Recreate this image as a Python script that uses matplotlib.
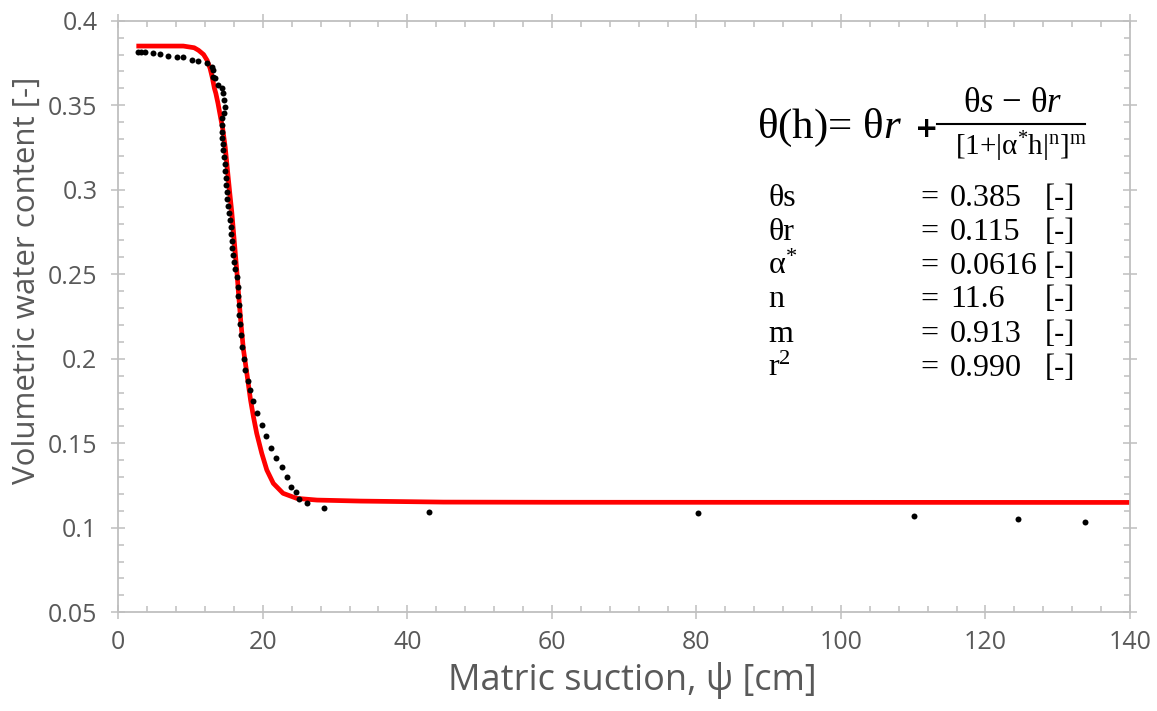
import matplotlib
matplotlib.use("Agg")
import matplotlib.pyplot as plt
from matplotlib.ticker import MultipleLocator, FixedLocator
from matplotlib.lines import Line2D

# Measured retention data: matric suction (cm) vs volumetric water content
psi_obs = [2.68, 3.14, 3.69, 4.84, 5.77, 6.92, 8.08, 8.99, 10.16, 11.07,
           12.23, 12.92, 13.15, 13.10, 13.38, 13.84, 14.31, 14.53, 14.67, 14.77,
           14.67, 14.39, 14.39, 14.31, 14.39, 14.42, 14.49, 14.63, 14.77, 14.83,
           14.90, 14.97, 15.04, 15.11, 15.18, 15.32, 15.46, 15.53, 15.60, 15.73,
           15.80, 15.87, 16.01, 16.20, 16.38, 16.52, 16.61, 16.74, 16.74, 16.84,
           16.98, 17.16, 17.39, 17.57, 17.99, 18.22, 18.68, 19.15, 19.84, 20.44,
           21.09, 21.78, 22.61, 23.30, 23.90, 24.59, 25.01, 26.07, 28.51, 43.04,
           80.26, 110.15, 124.46, 133.77]
theta_obs = [0.3813, 0.3813, 0.3813, 0.3807, 0.3803, 0.3793, 0.3783, 0.3783, 0.3768, 0.3763,
             0.3748, 0.3728, 0.3708, 0.3669, 0.3659, 0.3620, 0.3600, 0.3570, 0.3531, 0.3491,
             0.3452, 0.3423, 0.3383, 0.3343, 0.3304, 0.3271, 0.3235, 0.3194, 0.3152, 0.3111,
             0.3069, 0.3028, 0.2987, 0.2945, 0.2904, 0.2862, 0.2821, 0.2779, 0.2738, 0.2697,
             0.2655, 0.2614, 0.2572, 0.2530, 0.2485, 0.2426, 0.2371, 0.2318, 0.2259, 0.2206,
             0.2141, 0.2071, 0.1997, 0.1933, 0.1868, 0.1815, 0.1748, 0.1682, 0.1608, 0.1543,
             0.1470, 0.1411, 0.1358, 0.1299, 0.1243, 0.1210, 0.1170, 0.1145, 0.1115, 0.1095,
             0.1089, 0.1070, 0.1052, 0.1032]

# Fitted van Genuchten curve
psi_fit = [2.5, 6.0, 9.0, 10.5, 11.1, 11.8, 12.3, 12.7, 13.0, 13.3,
           13.5, 13.8, 14.1, 14.45, 14.8, 15.1, 15.45, 15.7, 16.0, 16.4,
           16.65, 16.95, 17.3, 17.8, 18.3, 18.7, 19.15, 19.85, 20.55, 21.45,
           22.8, 24.7, 27.5, 33.5, 45.0, 60.0, 140.0]
theta_fit = [0.385, 0.385, 0.385, 0.384, 0.3825, 0.380, 0.3765, 0.3718, 0.3665, 0.360,
             0.357, 0.351, 0.344, 0.336, 0.325, 0.312, 0.297, 0.287, 0.272, 0.252,
             0.238, 0.222, 0.206, 0.191, 0.1756, 0.1657, 0.1559, 0.1441, 0.1342, 0.1263,
             0.1204, 0.1174, 0.1164, 0.1158, 0.1152, 0.1151, 0.1150]

x_ticks = [0, 20, 40, 60, 80, 100, 120, 140]
x_tick_labels = ["0", "20", "40", "60", "80", "100", "120", "140"]
y_ticks = [0.05, 0.1, 0.15, 0.2, 0.25, 0.3, 0.35, 0.4]
y_tick_labels = ["0.05", "0.1", "0.15", "0.2", "0.25", "0.3", "0.35", "0.4"]

param_names = ["θs", "θr", "α$^{*}$", "n", "m", "r$^{2}$"]
param_values = ["0.385", "0.115", "0.0616", "11.6", "0.913", "0.990"]

plt.rcParams["mathtext.fontset"] = "custom"
plt.rcParams["mathtext.rm"] = "Liberation Serif"
plt.rcParams["mathtext.it"] = "Liberation Serif:italic"
plt.rcParams["mathtext.bf"] = "Liberation Serif:bold"

W, H = 1157, 711
fig = plt.figure(figsize=(W / 100, H / 100), dpi=100)
ax = fig.add_axes([118.3 / W, 1 - 612.3 / H, (1130 - 118.3) / W, (612.3 - 20.7) / H])

grey = "#bfbfbf"
label_grey = "#595959"

ax.plot(psi_fit, theta_fit, color="#ff0000", lw=3.4, solid_capstyle="butt", zorder=2)
ax.plot(psi_obs, theta_obs, linestyle="none", marker="o", ms=4.3,
        mfc="black", mec="black", mew=0, zorder=3)

ax.set_xlim(0, 140)
ax.set_ylim(0.05, 0.4)
ax.xaxis.set_major_locator(FixedLocator(x_ticks))
ax.set_xticklabels(x_tick_labels)
ax.yaxis.set_major_locator(FixedLocator(y_ticks))
ax.set_yticklabels(y_tick_labels)
ax.xaxis.set_minor_locator(MultipleLocator(4))
ax.yaxis.set_minor_locator(MultipleLocator(0.01))

for s in ax.spines.values():
    s.set_color(grey)
    s.set_linewidth(1.3)

ax.tick_params(which="major", direction="inout", length=10, width=1.1, color=grey,
               labelcolor=label_grey, top=True, right=True)
ax.tick_params(which="minor", direction="in", length=4.5, width=1.1, color=grey,
               top=True, right=True)
ax.tick_params(axis="x", which="major", labelsize=18, pad=8)
ax.tick_params(axis="y", which="major", labelsize=18, pad=10)
for lab in ax.get_xticklabels() + ax.get_yticklabels():
    lab.set_family("Open Sans")

ax.set_xlabel("Matric suction, ψ [cm]", fontsize=26, color=label_grey, family="Open Sans")
ax.set_ylabel("Volumetric water content [-]", fontsize=22.5, color=label_grey, family="Open Sans")
ax.xaxis.set_label_coords((632.5 - 118.3) / 1011.7, (612.3 - 662) / 591.6)
ax.yaxis.set_label_coords((42 - 118.3) / 1011.7, (612.3 - 280) / 591.6)


def fpos(x, y):
    return x / W, 1 - y / H


serif = "Liberation Serif"
# model equation
fig.text(*fpos(757, 128), "θ(h)= θ$r$", size=31, family=serif, va="center", ha="left")
fig.text(*fpos(927, 129), "+", size=20, family="DejaVu Sans", weight="bold",
         va="center", ha="center")
fig.text(*fpos(1013, 104), "θ$s$ − θ$r$", size=25, family=serif, va="center", ha="center")
fig.add_artist(Line2D([937 / W, 1085 / W], [1 - 123.5 / H] * 2,
                      transform=fig.transFigure, color="black", lw=1.5))
fig.text(*fpos(1021, 147), "[1+|α$^{*}$h|$^{\\mathrm{n}}$]$^{\\mathrm{m}}$", size=21,
         family=serif, va="center", ha="center")

# fitted parameters
for i, (name, val) in enumerate(zip(param_names, param_values)):
    yy = 198 + i * 34
    fig.text(*fpos(768, yy), name, size=23, family=serif, va="center", ha="left")
    fig.text(*fpos(920, yy), "=", size=23, family=serif, va="center", ha="left")
    fig.text(*fpos(950, yy), val, size=23, family=serif, va="center", ha="left")
    fig.text(*fpos(1045, yy), "[-]", size=22, family=serif, va="center", ha="left")

fig.savefig("out.png", dpi=100)
